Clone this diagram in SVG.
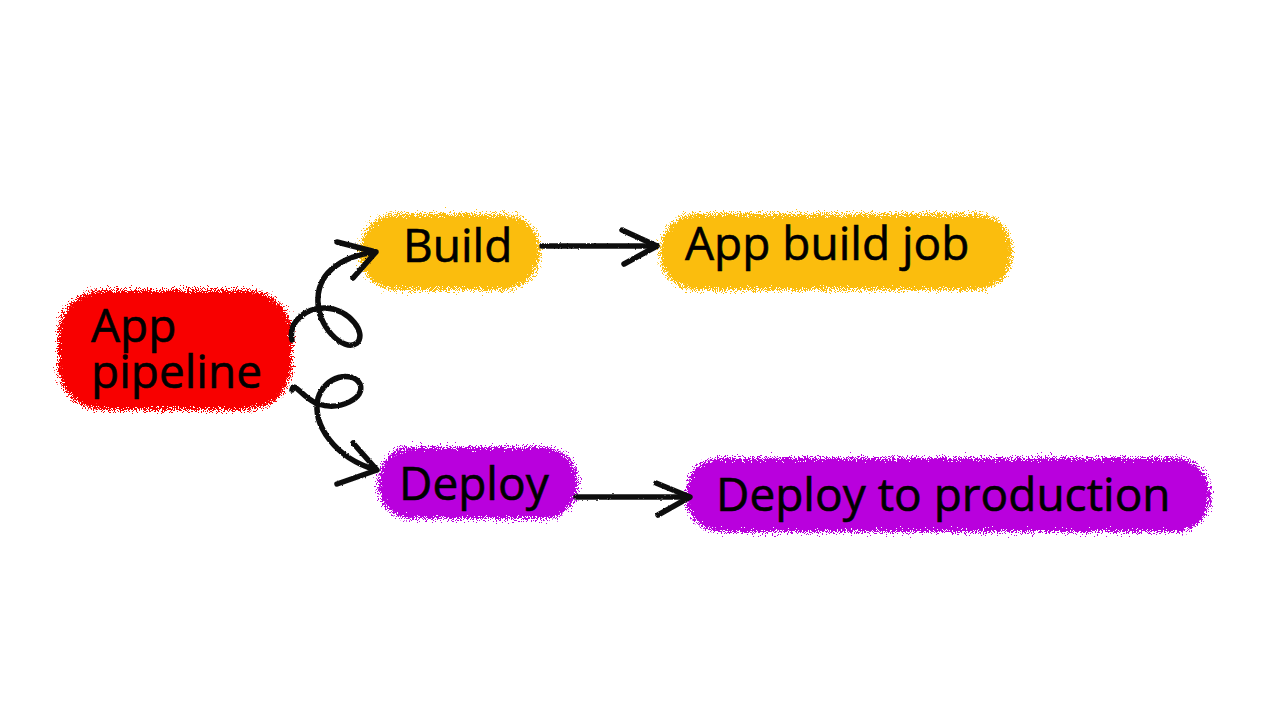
<svg xmlns="http://www.w3.org/2000/svg" width="1280" height="720" viewBox="0 0 1280 720">
<style>
.lbl{font-family:"Open Sans","Noto Sans",sans-serif;font-size:46px;fill:#000;stroke:#000;stroke-width:0.6}
.con{fill:none;stroke:#111;stroke-width:5.5;stroke-linecap:round;stroke-linejoin:round}
</style>
<defs>
<filter id="fuzz" x="-10%" y="-25%" width="120%" height="150%">
<feTurbulence type="fractalNoise" baseFrequency="1.2" numOctaves="2" seed="3" result="n"/>
<feDisplacementMap in="SourceGraphic" in2="n" scale="18" xChannelSelector="R" yChannelSelector="G"/>
</filter>
<filter id="rough" x="-10%" y="-10%" width="120%" height="120%">
<feTurbulence type="fractalNoise" baseFrequency="0.6" numOctaves="1" seed="5" result="n"/>
<feDisplacementMap in="SourceGraphic" in2="n" scale="2.5" xChannelSelector="R" yChannelSelector="G"/>
</filter>
</defs>
<rect width="1280" height="720" fill="#fff"/>
<g id="node-app-pipeline">
<rect x="58" y="290" width="234" height="120" rx="45" fill="#f80000" filter="url(#fuzz)"/>
<text class="lbl" x="91" y="342">App</text>
<text class="lbl" x="91" y="388">pipeline</text>
</g>
<g id="node-build">
<rect x="360" y="214" width="180" height="76" rx="36" fill="#fbbd0c" filter="url(#fuzz)"/>
<text class="lbl" x="403" y="262">Build</text>
</g>
<g id="node-app-build-job">
<rect x="660" y="214" width="352" height="76" rx="36" fill="#fbbd0c" filter="url(#fuzz)"/>
<text class="lbl" x="685" y="260">App build job</text>
</g>
<g id="node-deploy">
<rect x="378" y="447" width="200" height="72" rx="34" fill="#b900dd" filter="url(#fuzz)"/>
<text class="lbl" x="399" y="500">Deploy</text>
</g>
<g id="node-deploy-prod">
<rect x="686" y="458" width="524" height="74" rx="34" fill="#b900dd" filter="url(#fuzz)"/>
<text class="lbl" x="716" y="511">Deploy to production</text>
</g>
<g id="connectors" filter="url(#rough)">
<path class="con" d="M292,340 C288,322 306,307 326,308 C350,310 367,333 357,343 C344,353 316,326 318,298 C319,270 345,256 375,252"/>
<path class="con" d="M337,242 L376,252 L353,278"/>
<path class="con" d="M292,390 C294,380 302,398 318,404 C340,411 366,398 360,384 C352,370 325,376 318,398 C312,425 335,458 376,470"/>
<path class="con" d="M353,443 L377,470 L337,484"/>
<path class="con" d="M542,246 L656,246"/>
<path class="con" d="M622,230 L657,246 L624,264"/>
<path class="con" d="M576,497 L689,497"/>
<path class="con" d="M656,483 L690,497 L658,515"/>
</g>
</svg>
